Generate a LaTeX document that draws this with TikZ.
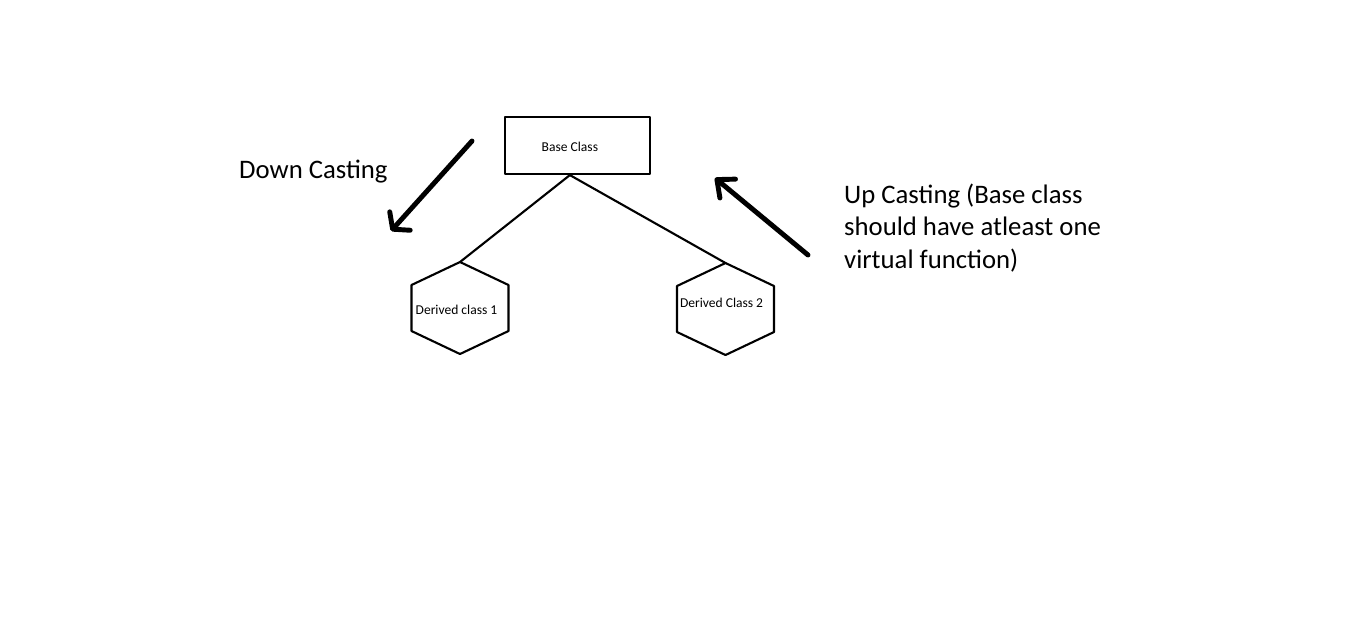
\documentclass[tikz,border=0pt]{standalone}
\usepackage{fontspec}
\setmainfont{Carlito}
\usetikzlibrary{calc, positioning}
\usetikzlibrary{arrows.meta}

\begin{document}
\begin{tikzpicture}[x=0.01cm, y=-0.01cm, line join=round, line cap=round,
  outline/.style={draw=black, line width=0.6pt},
  smalltext/.style={inner sep=0pt, font={\fontsize{3.85}{4.7}\selectfont}},
  bigtext/.style={inner sep=0pt, align=left, font={\fontsize{7.6}{9.25}\selectfont}},
  castarrow/.style={line width=1.4pt}]
\def\hexhalfwidth{48.5}
\def\hexhalfheight{46}
\def\hexsidehalf{23}

\useasboundingbox (0,0) rectangle (1360,623);

% Base class box, label sits a little left of centre
\node[outline, minimum width=1.45cm, minimum height=0.57cm, inner sep=0pt] (base) at (577.5,145.5) {};
\node[smalltext, anchor=base west] (baselabel) at (541,151.5) {Base Class};
\coordinate (fork) at (base.south -| baselabel.center);

% Derived classes, drawn as hexagons
\coordinate (hexone) at (460,308);
\coordinate (hextwo) at (725.5,309);
\coordinate (hexonetop) at ($(hexone)+(0,-\hexhalfheight)$);
\coordinate (hextwotop) at ($(hextwo)+(0,-\hexhalfheight)$);
\foreach \hex in {hexone,hextwo} {
  \draw[outline] ($(\hex)+(0,-\hexhalfheight)$) -- ($(\hex)+(\hexhalfwidth,-\hexsidehalf)$)
    -- ($(\hex)+(\hexhalfwidth,\hexsidehalf)$) -- ($(\hex)+(0,\hexhalfheight)$)
    -- ($(\hex)+(-\hexhalfwidth,\hexsidehalf)$) -- ($(\hex)+(-\hexhalfwidth,-\hexsidehalf)$)
    -- cycle;
}
\node[smalltext, anchor=base west] (derivedone) at (415,314) {Derived class 1};
\node[smalltext, anchor=base west] (derivedtwo) at (679.3,307.7) {Derived Class 2};

% Inheritance lines
\draw[outline] (fork) -- (hexonetop);
\draw[outline] (fork) -- (hextwotop);

% Casting directions
\coordinate (downtail) at (472,141);
\coordinate (downtip) at (391,231);
\draw[castarrow, -{Straight Barb[angle=103:5pt, round]}] (downtail) -- (downtip);
\node[bigtext, anchor=base west] (downlabel) at (238.5,178.3) {Down Casting};

\coordinate (uptail) at (808,255);
\coordinate (uptip) at (715,178);
\draw[castarrow, -{Straight Barb[angle=82:5.3pt, round]}] (uptail) -- (uptip);
\node[bigtext, anchor=base west] (uplabel) at (843.5,268.3)
  {Up Casting (Base class\\should have atleast one\\virtual function)};
\end{tikzpicture}
\end{document}
